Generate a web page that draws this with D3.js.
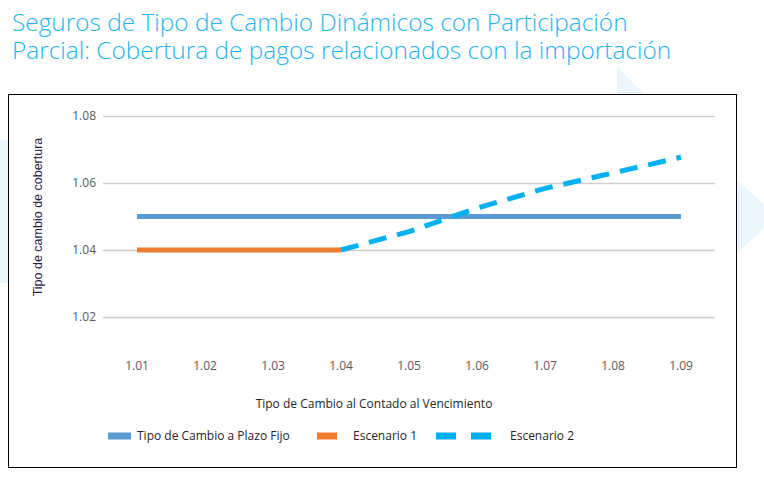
<!DOCTYPE html>
<html lang="es">
<head>
  <meta charset="UTF-8">
  <title>Seguros de Tipo de Cambio Dinámicos con Participación Parcial</title>
  <script src="https://d3js.org/d3.v7.min.js"></script>
  <style>
    body { margin: 0; background: #fff; }
    .title { font-family: "Open Sans", sans-serif; font-weight: 300; font-size: 24.4px; fill: #1fb4ec; }
    .tick text { font-family: "Open Sans", sans-serif; font-size: 12px; fill: #595959; }
    .axis-title { font-family: "Open Sans", sans-serif; font-size: 12px; fill: #262626; }
    .y-title { font-family: "Liberation Sans", Arial, sans-serif; font-size: 12.5px; fill: #26203f; }
    .legend text { font-family: "Open Sans", sans-serif; font-size: 12px; fill: #262626; }
  </style>
</head>
<body>
  <div id="chart"></div>
  <script>
    const spotRates = ["1.01", "1.02", "1.03", "1.04", "1.05", "1.06", "1.07", "1.08", "1.09"];
    const forwardRate = [1.05, 1.05, 1.05, 1.05, 1.05, 1.05, 1.05, 1.05, 1.05];
    const scenario1 = [1.04, 1.04, 1.04, 1.04, null, null, null, null, null];
    const scenario2 = [null, null, null, 1.04, 1.0455, 1.0525, 1.0584, 1.063, 1.0677];
    const yTicks = [1.02, 1.04, 1.06, 1.08];
    const seriesNames = ["Tipo de Cambio a Plazo Fijo", "Escenario 1", "Escenario 2"];
    const seriesColors = ["#5b9bd5", "#ed7d31", "#00b0f0"];

    const W = 764, H = 483;
    const svg = d3.select("#chart").append("svg")
      .attr("width", W)
      .attr("height", H);

    // faint decorative shapes behind the chart box
    const deco = "#eaf6fc";
    svg.append("rect").attr("x", 0).attr("y", 140).attr("width", 9).attr("height", 143).attr("fill", deco);
    svg.append("polygon").attr("points", "617,67 645,95 617,95").attr("fill", deco);
    svg.append("polygon").attr("points", "737,180 764,205 764,228 737,253").attr("fill", deco);

    // title, two lines
    svg.append("text").attr("class", "title")
      .attr("x", 12).attr("y", 31)
      .text("Seguros de Tipo de Cambio Dinámicos con Participación");
    svg.append("text").attr("class", "title")
      .attr("x", 12).attr("y", 59)
      .text("Parcial: Cobertura de pagos relacionados con la importación");

    // chart box
    svg.append("rect")
      .attr("x", 8.5).attr("y", 94.5)
      .attr("width", 728).attr("height", 373)
      .attr("fill", "#fff")
      .attr("stroke", "#000")
      .attr("stroke-width", 1);

    const x = d3.scaleBand().domain(spotRates).range([103, 715]).padding(0);
    const y = d3.scaleLinear().domain([1.00, 1.08]).range([384, 116]);
    const cx = d => x(d) + x.bandwidth() / 2;

    // y axis with gridlines
    const yAxis = svg.append("g")
      .attr("transform", "translate(103,0)")
      .call(d3.axisLeft(y).tickValues(yTicks).tickFormat(d3.format(".2f"))
        .tickSizeInner(-(715 - 103)).tickSizeOuter(0).tickPadding(7));
    yAxis.select(".domain").remove();
    yAxis.selectAll(".tick line").attr("stroke", "#cfcfcf").attr("stroke-width", 1.5);

    // x axis labels
    const xAxis = svg.append("g")
      .attr("transform", "translate(0,350)")
      .call(d3.axisBottom(x).tickSize(0).tickPadding(11));
    xAxis.select(".domain").remove();

    svg.append("text").attr("class", "axis-title")
      .attr("x", 374).attr("y", 408)
      .attr("text-anchor", "middle")
      .text("Tipo de Cambio al Contado al Vencimiento");

    svg.append("text").attr("class", "y-title")
      .attr("transform", "translate(42,217) rotate(-90)")
      .attr("text-anchor", "middle")
      .text("Tipo de cambio de cobertura");

    // lines
    const line = d3.line()
      .defined(d => d.v !== null)
      .x(d => cx(d.k))
      .y(d => y(d.v));

    const series = [forwardRate, scenario1, scenario2];
    series.forEach((vals, i) => {
      const pts = vals.map((v, j) => ({ k: spotRates[j], v }));
      svg.append("path")
        .datum(pts)
        .attr("fill", "none")
        .attr("stroke", seriesColors[i])
        .attr("stroke-width", 5)
        .attr("stroke-dasharray", i === 2 ? "18,11" : null)
        .attr("d", line);
    });

    // legend
    const legend = svg.append("g").attr("class", "legend");
    const legX = [108, 317, 436];
    const txtX = [137, 353, 510];
    seriesNames.forEach((name, i) => {
      if (i === 2) {
        legend.append("line")
          .attr("x1", legX[i]).attr("x2", legX[i] + 56)
          .attr("y1", 436).attr("y2", 436)
          .attr("stroke", seriesColors[i]).attr("stroke-width", 7)
          .attr("stroke-dasharray", "20,15");
      } else {
        legend.append("rect")
          .attr("x", legX[i]).attr("y", 432.5)
          .attr("width", i === 0 ? 23 : 20).attr("height", 7)
          .attr("fill", seriesColors[i]);
      }
      legend.append("text")
        .attr("x", txtX[i]).attr("y", 440)
        .text(name);
    });
  </script>
</body>
</html>
